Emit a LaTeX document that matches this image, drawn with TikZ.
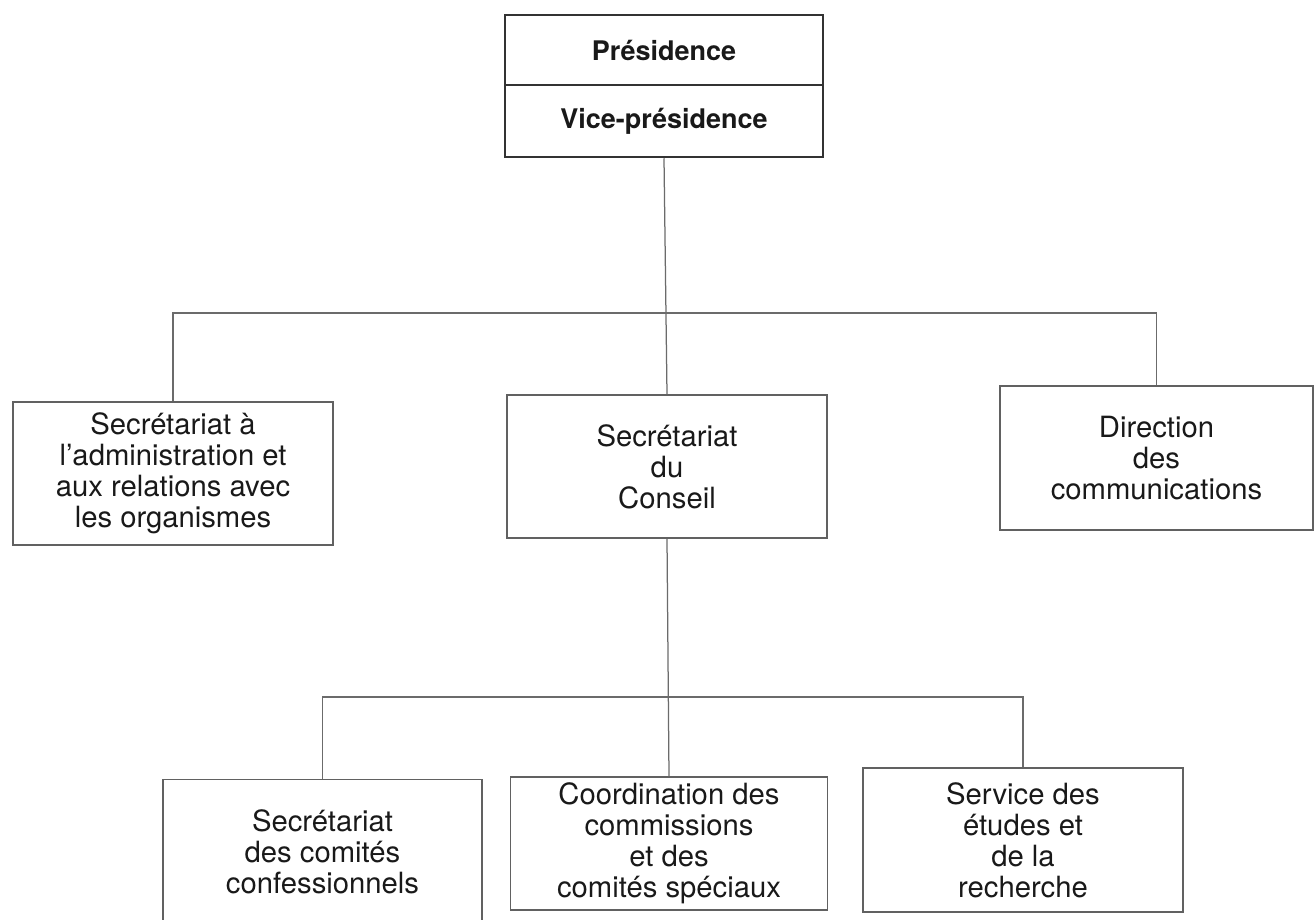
\documentclass[tikz,border=0pt]{standalone}
\usepackage{fontspec}
\setmainfont{TeX Gyre Heros}
\begin{document}
\begin{tikzpicture}[x=0.4pt,y=-0.4pt,
  boite/.style={draw=black!62,line width=0.6pt,align=center,inner sep=0pt,
    text=black!90,font=\fontsize{11.7}{12.4}\selectfont},
  tete/.style={draw=black!80,line width=1pt,inner sep=0pt,minimum width=127.2pt,
    text=black!90,font=\fontsize{10.8}{12}\selectfont\bfseries},
  lien/.style={draw=black!58,line width=0.5pt}]
  \useasboundingbox (0,0) rectangle (1314,920);
  % direction
  \node[tete,minimum height=28pt] (pres) at (664,50) {Présidence};
  \node[tete,minimum height=28.8pt] (vice) at (664,121) {Vice-présidence};
  % premier niveau
  \node[boite,minimum width=128pt,minimum height=57.2pt] (gauche) at (173,473.5)
    {Secrétariat à\\l’administration et\\aux relations avec\\les organismes};
  \node[boite,minimum width=128pt,minimum height=57.2pt] (conseil) at (667,466.5)
    {Secrétariat\\du\\Conseil};
  \node[boite,minimum width=125.2pt,minimum height=57.6pt] (droite) at (1156.5,458)
    {Direction\\des\\communications};
  % second niveau
  \node[boite,minimum width=127.6pt,minimum height=58pt] (comites) at (322.5,852)
    {Secrétariat\\des comités\\confessionnels};
  \node[boite,minimum width=126.8pt,minimum height=53.2pt] (coord) at (669,843.5)
    {Coordination des\\commissions\\et des\\comités spéciaux};
  \node[boite,minimum width=128pt,minimum height=57.6pt] (service) at (1023,840)
    {Service des\\études et\\de la\\recherche};
  \coordinate (j1) at (665,313);
  \coordinate (j2) at (668,697);
  \draw[lien] (vice.south) -- (conseil.north);
  \draw[lien] (gauche.north) |- (j1) -| (droite.north);
  \draw[lien] (conseil.south) -- (coord.north);
  \draw[lien] (comites.north) |- (j2) -| (service.north);
\end{tikzpicture}
\end{document}
